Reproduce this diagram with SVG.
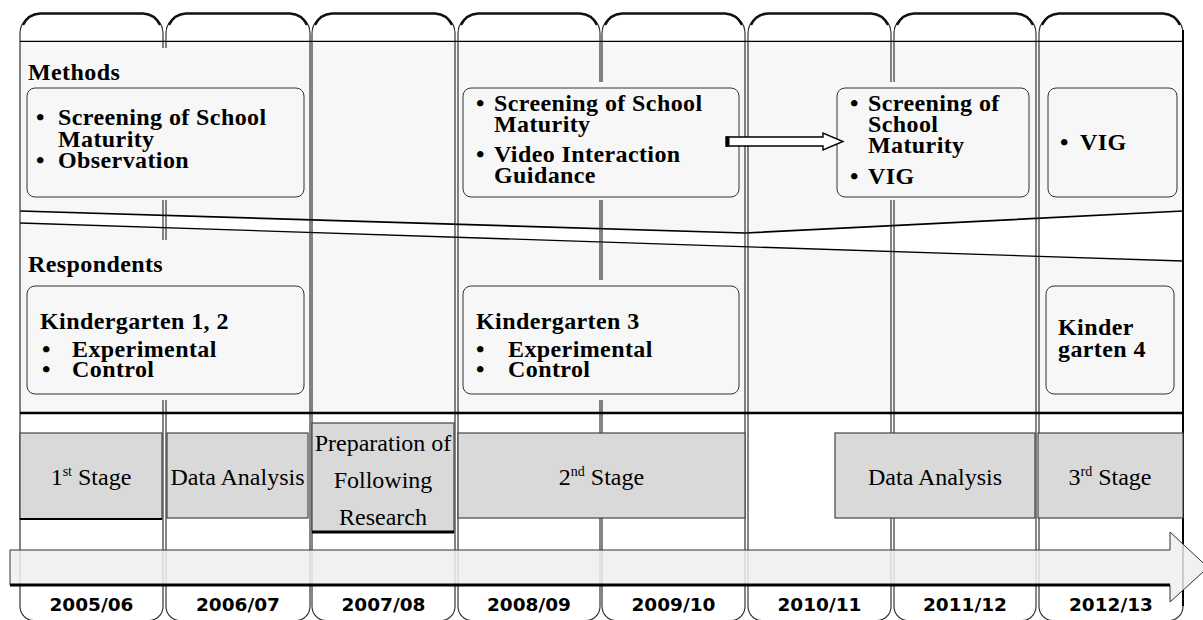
<svg xmlns="http://www.w3.org/2000/svg" width="1203" height="620" viewBox="0 0 1203 620">
<style>
.col{fill:none;stroke:#222;stroke-width:1.1}
.top{fill:none;stroke:#111;stroke-width:2.4}
.cover{fill:#f7f7f7;stroke:none}
.box{fill:#f7f7f7;stroke:#333;stroke-width:1}
.hb{font-family:"Liberation Serif",serif;font-weight:bold;font-size:24px;letter-spacing:0.4px;fill:#000}
.st{font-family:"Liberation Serif",serif;font-size:24px;text-anchor:middle;fill:#000}
.sup{font-size:14px}
.yr{font-family:"DejaVu Sans",sans-serif;font-weight:bold;font-size:18.5px;text-anchor:middle;fill:#000}
.stage{fill:#d9d9d9;stroke:#444;stroke-width:1.2}
</style>
<rect width="1203" height="620" fill="#fff"/>
<!-- panel -->
<rect x="20" y="41" width="1163" height="372" fill="#f7f7f7"/>
<!-- white tear band -->
<polygon points="20,211 745,233 1183,211 1183,261 20,223" fill="#fff"/>
<polyline points="20,211 745,233 1183,211" fill="none" stroke="#000" stroke-width="1.7"/>
<line x1="20" y1="223" x2="1183" y2="261" stroke="#000" stroke-width="1.3"/>
<!-- columns -->
<g id="columns">
<path class="col" d="M40,13.5 H143 A20,20 0 0 1 163,33.5 V606.5 A14,14 0 0 1 149,620.5 H34 A14,14 0 0 1 20,606.5 V33.5 A20,20 0 0 1 40,13.5 Z"/>
<path class="col" d="M186,13.5 H290 A20,20 0 0 1 310,33.5 V606.5 A14,14 0 0 1 296,620.5 H180 A14,14 0 0 1 166,606.5 V33.5 A20,20 0 0 1 186,13.5 Z"/>
<path class="col" d="M332,13.5 H435 A20,20 0 0 1 455,33.5 V606.5 A14,14 0 0 1 441,620.5 H326 A14,14 0 0 1 312,606.5 V33.5 A20,20 0 0 1 332,13.5 Z"/>
<path class="col" d="M478,13.5 H580 A20,20 0 0 1 600,33.5 V606.5 A14,14 0 0 1 586,620.5 H472 A14,14 0 0 1 458,606.5 V33.5 A20,20 0 0 1 478,13.5 Z"/>
<path class="col" d="M622,13.5 H725 A20,20 0 0 1 745,33.5 V606.5 A14,14 0 0 1 731,620.5 H616 A14,14 0 0 1 602,606.5 V33.5 A20,20 0 0 1 622,13.5 Z"/>
<path class="col" d="M768,13.5 H871 A20,20 0 0 1 891,33.5 V606.5 A14,14 0 0 1 877,620.5 H762 A14,14 0 0 1 748,606.5 V33.5 A20,20 0 0 1 768,13.5 Z"/>
<path class="col" d="M914,13.5 H1016 A20,20 0 0 1 1036,33.5 V606.5 A14,14 0 0 1 1022,620.5 H908 A14,14 0 0 1 894,606.5 V33.5 A20,20 0 0 1 914,13.5 Z"/>
<path class="col" d="M1059,13.5 H1163 A20,20 0 0 1 1183,33.5 V606.5 A14,14 0 0 1 1169,620.5 H1053 A14,14 0 0 1 1039,606.5 V33.5 A20,20 0 0 1 1059,13.5 Z"/>
<path class="top" d="M23,25 A20,20 0 0 1 40,13.5 H143 A20,20 0 0 1 160,25"/>
<path class="top" d="M169,25 A20,20 0 0 1 186,13.5 H290 A20,20 0 0 1 307,25"/>
<path class="top" d="M315,25 A20,20 0 0 1 332,13.5 H435 A20,20 0 0 1 452,25"/>
<path class="top" d="M461,25 A20,20 0 0 1 478,13.5 H580 A20,20 0 0 1 597,25"/>
<path class="top" d="M605,25 A20,20 0 0 1 622,13.5 H725 A20,20 0 0 1 742,25"/>
<path class="top" d="M751,25 A20,20 0 0 1 768,13.5 H871 A20,20 0 0 1 888,25"/>
<path class="top" d="M897,25 A20,20 0 0 1 914,13.5 H1016 A20,20 0 0 1 1033,25"/>
<path class="top" d="M1042,25 A20,20 0 0 1 1059,13.5 H1163 A20,20 0 0 1 1180,25"/>
<line x1="1183" y1="30" x2="1183" y2="606" stroke="#000" stroke-width="2"/>
</g>
<!-- covers hiding column lines behind label areas -->
<rect class="cover" x="150" y="48" width="30" height="152"/>
<rect class="cover" x="590" y="82" width="25" height="118"/>
<rect class="cover" x="880" y="82" width="25" height="118"/>
<rect class="cover" x="150" y="240" width="30" height="160"/>
<rect class="cover" x="590" y="280" width="25" height="120"/>
<!-- horizontal rules -->
<line x1="20" y1="41.3" x2="1183" y2="41.3" stroke="#000" stroke-width="1.2"/>
<line x1="20" y1="413" x2="1183" y2="413" stroke="#000" stroke-width="2.6"/>

<text class="hb" x="28" y="80">Methods</text>
<text class="hb" x="28" y="272">Respondents</text>

<g id="m1">
<rect class="box" x="27" y="88" width="277" height="109" rx="8"/>
<text class="hb" x="36" y="125">•</text><text class="hb" x="58" y="125">Screening of School</text>
<text class="hb" x="58" y="146.5">Maturity</text>
<text class="hb" x="36" y="168">•</text><text class="hb" x="58" y="168">Observation</text>
</g>
<g id="m2">
<rect class="box" x="463" y="88" width="276" height="109" rx="8"/>
<text class="hb" x="476" y="111">•</text><text class="hb" x="494" y="111">Screening of School</text>
<text class="hb" x="494" y="132">Maturity</text>
<text class="hb" x="476" y="162">•</text><text class="hb" x="494" y="162">Video Interaction</text>
<text class="hb" x="494" y="183">Guidance</text>
</g>
<g id="m3">
<rect class="box" x="837" y="88" width="192" height="109" rx="8"/>
<text class="hb" x="850" y="111">•</text><text class="hb" x="868" y="111">Screening of</text>
<text class="hb" x="868" y="132">School</text>
<text class="hb" x="868" y="153">Maturity</text>
<text class="hb" x="850" y="184">•</text><text class="hb" x="868" y="184">VIG</text>
</g>
<g id="m4">
<rect class="box" x="1048" y="88" width="129" height="109" rx="8"/>
<text class="hb" x="1060" y="150">•</text><text class="hb" x="1080" y="150">VIG</text>
</g>

<g id="connectors">
<polygon points="726,137 823,137 823,133 843,141.5 823,150 823,146 726,146" fill="#fff" stroke="#000" stroke-width="1.4"/>
<rect x="726" y="136.5" width="3.5" height="10" fill="#000"/>
</g>

<g id="r1">
<rect class="box" x="27" y="286" width="277" height="108" rx="8"/>
<text class="hb" x="40" y="329">Kindergarten 1, 2</text>
<text class="hb" x="42" y="357">•</text><text class="hb" x="72" y="357">Experimental</text>
<text class="hb" x="42" y="377">•</text><text class="hb" x="72" y="377">Control</text>
</g>
<g id="r2">
<rect class="box" x="463" y="286" width="276" height="108" rx="8"/>
<text class="hb" x="476" y="329">Kindergarten 3</text>
<text class="hb" x="476" y="357">•</text><text class="hb" x="508" y="357">Experimental</text>
<text class="hb" x="476" y="377">•</text><text class="hb" x="508" y="377">Control</text>
</g>
<g id="r3">
<rect class="box" x="1046" y="286" width="128" height="108" rx="8"/>
<text class="hb" x="1058" y="335">Kinder</text>
<text class="hb" x="1058" y="357">garten 4</text>
</g>

<g id="s1">
<rect class="stage" x="20" y="433" width="142" height="86"/>
<line x1="20" y1="519" x2="162" y2="519" stroke="#000" stroke-width="2"/>
<text class="st" x="91" y="485">1<tspan class="sup" dy="-9">st</tspan><tspan dy="9"> Stage</tspan></text>
</g>
<g id="s2">
<rect class="stage" x="167" y="433" width="141" height="85"/>
<text class="st" x="237.5" y="485">Data Analysis</text>
</g>
<g id="s3">
<rect class="stage" x="312" y="423" width="142" height="109"/>
<line x1="312" y1="532" x2="454" y2="532" stroke="#000" stroke-width="3"/>
<text class="st" x="383" y="451">Preparation of</text>
<text class="st" x="383" y="488">Following</text>
<text class="st" x="383" y="525">Research</text>
</g>
<g id="s4">
<rect class="stage" x="458" y="433" width="287" height="85"/>
<text class="st" x="601.5" y="485">2<tspan class="sup" dy="-9">nd</tspan><tspan dy="9"> Stage</tspan></text>
</g>
<g id="s5">
<rect class="stage" x="835" y="433" width="200" height="85"/>
<text class="st" x="935" y="485">Data Analysis</text>
</g>
<g id="s6">
<rect class="stage" x="1038" y="433" width="145" height="85"/>
<text class="st" x="1110" y="485">3<tspan class="sup" dy="-9">rd</tspan><tspan dy="9"> Stage</tspan></text>
</g>

<g id="timeline">
<polygon points="10,550 1170,550 1170,532 1208,567.5 1170,602 1170,585 10,585" fill="#efefef" fill-opacity="0.85" stroke="#333" stroke-width="1"/>
<line x1="10" y1="585" x2="1170" y2="585" stroke="#000" stroke-width="3"/>
</g>

<g id="years">
<text class="yr" x="91.5" y="611">2005/06</text>
<text class="yr" x="238" y="611">2006/07</text>
<text class="yr" x="383.5" y="611">2007/08</text>
<text class="yr" x="529" y="611">2008/09</text>
<text class="yr" x="673.5" y="611">2009/10</text>
<text class="yr" x="819.5" y="611">2010/11</text>
<text class="yr" x="965" y="611">2011/12</text>
<text class="yr" x="1111" y="611">2012/13</text>
</g>
</svg>
